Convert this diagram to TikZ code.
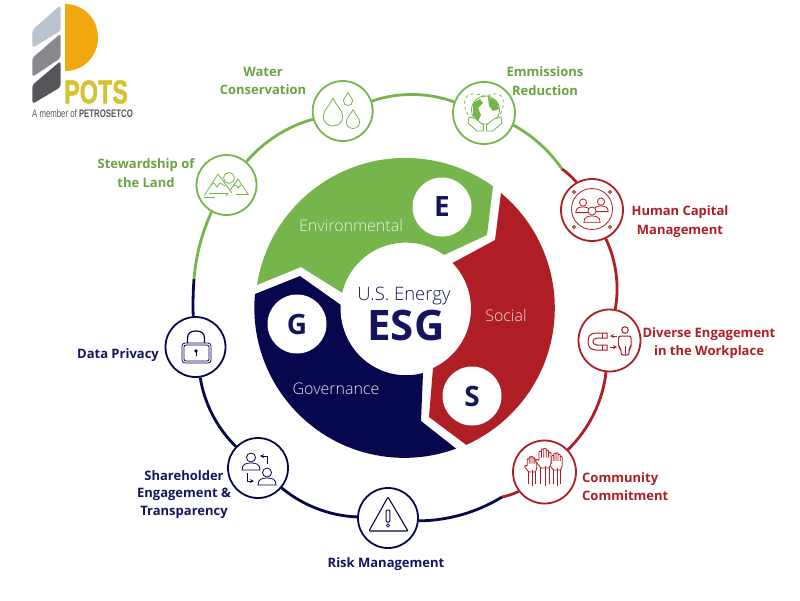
\documentclass[tikz,border=0pt]{standalone}
\usepackage{fontspec}
\setmainfont{Open Sans}
\newfontfamily\lightfont{Open Sans Light}
\newfontfamily\logofont{Liberation Sans}
\newfontfamily\potsfont{Liberation Sans}[BoldFeatures={FakeBold=1.5}]
\usetikzlibrary{arrows}
\definecolor{myblue}{HTML}{07074D}
\definecolor{myred}{HTML}{AE1E24}
\definecolor{mygreen}{HTML}{75B54B}
\definecolor{textblue}{HTML}{15155F}
\definecolor{logogrey}{HTML}{BCC3D0}
\definecolor{logomid}{HTML}{88898C}
\definecolor{logodark}{HTML}{56565A}
\definecolor{logoorange}{HTML}{F0A80E}
\definecolor{logoyellow}{HTML}{D4C22F}
\tikzset{%
  disc/.style={circle,fill=white,minimum size=60pt,inner sep=0pt,line width=1.8pt},
  tag/.style={font=\fontsize{13}{18.5}\selectfont\bfseries,align=center,inner sep=0pt},
  ring/.style={line width=2.8pt,looseness=0.86},
  icon/.style={line width=0.8pt},
  letter/.style={circle,fill=white,minimum size=59pt,inner sep=0pt,text=textblue,font=\fontsize{28}{28}\selectfont\bfseries},
  part/.style={font=\lightfont\fontsize{16}{18}\selectfont,inner sep=0pt},
  droplet/.pic={\draw[icon] (0,10) .. controls (-2,5) and (-7,1) .. (-7,-3) .. controls (-7,-7) and (-4,-10) .. (0,-10) .. controls (4,-10) and (7,-7) .. (7,-3) .. controls (7,1) and (2,5) .. (0,10);},
  person/.pic={\draw[icon,fill=white] (-9,-7) .. controls (-9,-1) and (-5,0) .. (0,0) .. controls (5,0) and (9,-1) .. (9,-7) -- cycle;
    \draw[icon,fill=white] (0,5.5) circle[radius=4.5];},
  hand/.pic={\draw[icon,fill=white,rounded corners=0.8] (-3.5,0) -- (-8,6) -- (-7,7.5) -- (-5,6) -- (-5,14) -- (-3,14) -- (-3,8) -- (-3,16) -- (-1,16) -- (-1,8) -- (-1,16.5) -- (1,16.5) -- (1,8) -- (1,15) -- (3,15) -- (3,8) -- (3,13) -- (5,13) -- (5,4) -- (3.5,0) -- cycle;
    \draw[icon] (-3.5,0) -- (-3.5,-13) (0,2) -- (0,-15) (3.5,0) -- (3.5,-13);},
}

\begin{document}
\begin{tikzpicture}[x=1pt,y=1pt]
  \useasboundingbox (0,0) rectangle (800,-600);
  % logo
  \fill[logogrey,rounded corners=3pt] (32.3,-30) -- (60.7,-5) -- (60.7,-30.7) -- (32.3,-48) -- cycle;
  \fill[logomid,rounded corners=3pt] (32.3,-58) -- (60.7,-33.5) -- (60.7,-58) -- (32.3,-77) -- cycle;
  \fill[logodark,rounded corners=3pt] (32.3,-85) -- (60.7,-61) -- (60.7,-87) -- (32.3,-104) -- cycle;
  \fill[logoorange] (65,-4) .. controls (84,-4) and (98,-19) .. (98,-37.5) .. controls (98,-56) and (84,-71) .. (65,-71) -- cycle;
  \node[anchor=west,inner sep=0pt,transform shape,xscale=0.71,text=logoyellow,font=\potsfont\fontsize{33}{33}\selectfont\bfseries] (logo_pots) at (64,-92) {POTS};
  \node[anchor=west,inner sep=0pt,transform shape,xscale=0.71,text=logodark,font=\logofont\fontsize{11}{11}\selectfont] (logo_member) at (32,-113.5) {A member of \textbf{PETROSETCO}};

  % middle wheel
  \fill[mygreen] (257,-285) arc[start angle=171.2,end angle=54.2,radius=150] -- (487,-235) -- (444,-255) arc[start angle=54,end angle=167,radius=65] -- (301,-267) -- cycle;
  \fill[myred] (501,-193) arc[start angle=50.1,end angle=-65.8,radius=150] -- (429,-417) -- (433,-368) arc[start angle=-65.4,end angle=44.7,radius=65] -- (495,-240) -- cycle;
  \fill[myblue] (255,-294) arc[start angle=174.7,end angle=290.2,radius=150] -- (421,-421) -- (423,-373) arc[start angle=285.1,end angle=175.6,radius=65] -- (300,-276) -- cycle;
  \node[circle,fill=white,minimum size=130pt,inner sep=0pt] (node_hub) at (405.5,-308) {};
  \node[inner sep=0pt,text=textblue,font=\lightfont\fontsize{18.5}{20}\selectfont] (node_energy) at (404,-296) {U.S. Energy};
  \node[inner sep=0pt,text=textblue,font=\fontsize{42}{42}\selectfont\bfseries] (node_esg) at (406,-325) {ESG};
  \node[letter] (node_e) at (442,-207) {E};
  \node[letter] (node_g) at (297,-324) {G};
  \node[letter] (node_s) at (472,-396) {S};
  \node[part,text=white!85!mygreen] (node_env) at (351,-225) {Environmental};
  \node[part,text=white!85!myred] (node_soc) at (506,-315) {Social};
  \node[part,text=white!90!myblue] (node_gov) at (336,-389) {Governance};

  % outer ring
  \node[disc,draw=mygreen] (node_land) at (226.5,-185) {};
  \node[disc,draw=mygreen] (node_water) at (342.7,-111) {};
  \node[disc,draw=mygreen,minimum size=62pt] (node_air) at (484,-113) {};
  \node[disc,draw=myred,minimum size=62pt] (node_people) at (592,-210) {};
  \node[disc,draw=myred,minimum size=62pt] (node_diverse) at (609.5,-340.5) {};
  \node[disc,draw=myred,minimum size=63pt] (node_hands) at (544.5,-472) {};
  \node[disc,draw=myblue] (node_risk) at (388,-518) {};
  \node[disc,draw=myblue] (node_share) at (258,-468) {};
  \node[disc,draw=myblue] (node_lock) at (195.5,-347) {};
  \coordinate (ring_red) at (562,-169);
  \coordinate (ring_navy) at (502,-497);
  \coordinate (ring_green) at (194,-279);

  \draw[ring,color=mygreen] (node_land) to[bend left=17] (node_water);
  \draw[ring,color=mygreen] (node_water) to[bend left=19.6] (node_air);
  \draw[ring,color=mygreen] (node_air) to[bend left=13.3] (ring_red);
  \draw[ring,color=myred] (ring_red) to[bend left=6.9] (node_people);
  \draw[ring,color=myred] (node_people) to[bend left=18] (node_diverse);
  \draw[ring,color=myred] (node_diverse) to[bend left=20] (node_hands);
  \draw[ring,color=myred] (node_hands) to[bend left=6.5] (ring_navy);
  \draw[ring,color=myblue] (ring_navy) to[bend left=15.7] (node_risk);
  \draw[ring,color=myblue] (node_risk) to[bend left=19] (node_share);
  \draw[ring,color=myblue] (node_share) to[bend left=18.5] (node_lock);
  \draw[ring,color=myblue] (node_lock) to[bend left=3] (ring_green);
  \draw[ring,color=mygreen] (ring_green) to[bend left=10] (node_land);

  % icons
  \begin{scope}[color=mygreen]
    \pic[scale=1.4] at (333,-112) {droplet};
    \pic[scale=0.65] at (348,-99) {droplet};
    \pic[scale=0.95] at (353,-119) {droplet};
    % mountains
    \draw[icon,fill=white] (226,-196) -- (238,-179) -- (248,-194);
    \draw[icon,fill=white] (229,-178) circle[radius=5.5];
    \draw[icon,fill=white] (204,-196) -- (218,-174) -- (232,-193);
    \draw[icon] (211,-185) -- (214,-183) -- (217,-187) -- (220,-183) -- (225,-186);
    \draw[icon] (233,-186) -- (236,-185) -- (238,-188) -- (241,-185);
    \draw[icon] (204,-197.5) -- (215,-197.5) (236,-194.5) -- (249,-194.5) (209,-193) -- (228,-193);
    % earth
    \draw[icon] (485.5,-110) circle[radius=14];
    \fill (473,-103) -- (480,-99) -- (483,-103) -- (478,-108) -- (481,-115) -- (478,-121) -- (473,-115) -- cycle;
    \fill (488,-97) -- (497,-101) -- (499,-109) -- (493,-111) -- (489,-106) -- cycle;
    \draw[icon,dashed] (468,-115) .. controls (462,-105) and (464,-94) .. (473,-94) .. controls (479,-94) and (483,-95) .. (485,-97) .. controls (488,-95) and (491,-94) .. (496,-94) .. controls (505,-94) and (505,-106) .. (500,-115);
    \draw[icon,fill=white] (469,-117) -- (468,-123) -- (477,-131) -- (483.5,-131) -- (483.5,-125) -- (476,-119) -- cycle;
    \draw[icon,fill=white] (501,-117) -- (502,-123) -- (493,-131) -- (486.5,-131) -- (486.5,-125) -- (494,-119) -- cycle;
  \end{scope}
  \begin{scope}[color=myred]
    \draw[icon] (592,-209) circle[radius=20.5];
    \foreach \x/\y in {574/-192,610/-192,574/-227,610/-227}
      \draw[icon] (\x,\y) circle[radius=1.5];
    \pic[scale=0.8] at (583,-207) {person};
    \pic[scale=0.8] at (601,-206) {person};
    \pic[scale=0.9] at (592,-216) {person};
    % magnet
    \draw[icon,line width=1pt] (607,-333) -- (596,-333) .. controls (590,-333) and (588,-337) .. (588,-341.5) .. controls (588,-346) and (590,-350) .. (596,-350) -- (607,-350) -- (607,-345) -- (597,-345) .. controls (594,-345) and (593,-343) .. (593,-341.5) .. controls (593,-340) and (594,-338) .. (597,-338) -- (607,-338) -- cycle;
    \draw[icon] (602,-333) -- (602,-338) (602,-345) -- (602,-350);
    \draw[icon,-stealth] (617,-336) -- (610,-336);
    \draw[icon,-stealth] (610,-347) -- (617,-347);
    \draw[icon,line width=1pt] (625,-330) circle[radius=3.3];
    \draw[icon,line width=1pt,rounded corners=2pt] (621,-355) -- (621,-349) -- (618.5,-347) -- (618.5,-336) -- (631,-336) -- (631,-347) -- (629,-349) -- (629,-355) -- cycle;
    \draw[icon] (625,-346) -- (625,-355);
    % hands
    \pic[scale=0.95] at (532,-472) {hand};
    \pic[scale=1.05] at (557,-470) {hand};
    \pic[scale=1.2] at (545,-468) {hand};
  \end{scope}
  \begin{scope}[color=myblue]
    % lock
    \draw[icon,rounded corners=3pt] (182,-343) rectangle (211,-363);
    \draw[icon,rounded corners=2pt] (184,-345) rectangle (209,-361);
    \draw[icon,line width=1.2pt] (187.5,-343) -- (187.5,-338) .. controls (187.5,-333) and (191,-331) .. (196,-331) .. controls (201,-331) and (204.5,-333) .. (204.5,-338) -- (204.5,-343);
    \fill (196,-351) circle[radius=1.8];
    \draw[icon,line width=1pt] (196,-351) -- (196,-356);
    \pic[scale=1] at (251,-463) {person};
    \pic[scale=1] at (267,-478) {person};
    \draw[icon,-stealth] (267,-464) -- (267,-456) -- (260,-456);
    \draw[icon,-stealth] (247,-473) -- (247,-481) -- (254,-481);
    \draw[icon,line width=1.1pt,rounded corners=1pt] (388,-497) -- (408,-531) -- (369,-531) -- cycle;
    \draw[icon,line width=1pt,rounded corners=1pt] (386.2,-510) rectangle (389.8,-522);
    \draw[icon] (388,-525.5) circle[radius=1.6];
  \end{scope}

  % labels
  \node[tag,text=mygreen!90!black] (tag_water) at (263,-81) {Water\\Conservation};
  \node[tag,text=mygreen!90!black] (tag_air) at (545,-81) {Emmissions\\Reduction};
  \node[tag,text=mygreen!90!black] (tag_land) at (146,-173) {Stewardship of\\the Land};
  \node[tag,text=myred] (tag_people) at (680,-221.5) {Human Capital\\Management};
  \node[tag,text=myred] (tag_diverse) at (709,-343) {Diverse Engagement\\in the Workplace};
  \node[tag,text=myred,align=left,anchor=west] (tag_hands) at (582,-486.5) {Community\\Commitment};
  \node[tag,text=textblue] (tag_lock) at (118,-355.5) {Data Privacy};
  \node[tag,text=textblue,font=\fontsize{13}{17.5}\selectfont\bfseries] (tag_share) at (184,-494.5) {Shareholder\\Engagement \&\\Transparency};
  \node[tag,text=textblue] (tag_risk) at (386,-564.5) {Risk Management};
\end{tikzpicture}
\end{document}
